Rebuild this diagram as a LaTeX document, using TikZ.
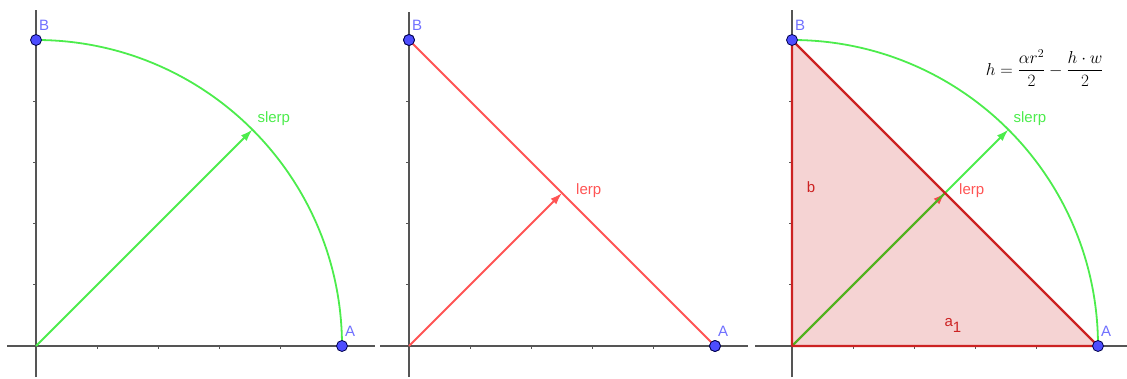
\documentclass[tikz,border=0pt]{standalone}
\usepackage{fontspec}
\setmainfont{Liberation Sans}
\usepackage{amsmath}
\usetikzlibrary{arrows.meta, positioning}
\definecolor{axisgray}{RGB}{85,85,85}
\definecolor{slerpgreen}{RGB}{76,236,76}
\definecolor{innergreen}{RGB}{49,216,29}
\definecolor{lerpred}{RGB}{255,84,84}
\definecolor{edgered}{RGB}{204,34,34}
\definecolor{pointblue}{RGB}{77,77,255}
\definecolor{labelblue}{RGB}{112,112,255}

\begin{document}
\begin{tikzpicture}[x=1pt, y=1pt, >={Latex[length=12pt,width=8pt]}, font=\fontsize{15}{18}\selectfont,
  axis/.style={draw=axisgray, line width=1.2pt},
  tick/.style={draw=axisgray, line width=0.8pt},
  pnt/.style={circle, draw=blue!30!black, fill=pointblue, line width=0.8pt, minimum size=11pt, inner sep=0pt},
  lbl/.style={inner sep=0pt, text=labelblue, anchor=south west},
  slerp/.style={draw=slerpgreen, line width=1.8pt},
  lerp/.style={draw=lerpred, line width=1.8pt},
  edge/.style={draw=edgered, line width=2.4pt, line join=round}]
\useasboundingbox (0,0) rectangle (1127,379);

% slerp
\begin{scope}[shift={(36pt,33pt)}, x=61.2pt, y=61.2pt]
\draw[axis] (-0.47,0) -- (5.54,0);
\draw[axis] (0,-0.51) -- (0,5.49);
\foreach \t in {1,...,4} {
  \draw[tick] (\t,0) -- (\t,-0.05);
  \draw[tick] (0,\t) -- (-0.05,\t);
}
\coordinate (O1) at (0,0);
\coordinate (S1) at (45:5);
\draw[slerp] (5,0) arc (0:90:5);
\draw[slerp, ->] (O1) -- (S1);
\node[inner sep=0pt, text=slerpgreen, anchor=south west, above right=4pt and 5pt of S1] (txtS1) {slerp};
\node[pnt] (A1) at (5,0) {};
\node[pnt] (B1) at (0,5) {};
\node[lbl, above right=9pt and 3pt of A1.center] (labA1) {A};
\node[lbl, above right=9pt and 3pt of B1.center] (labB1) {B};
\end{scope}

% lerp
\begin{scope}[shift={(409pt,33pt)}, x=61.2pt, y=61.2pt]
\draw[axis] (-0.47,0) -- (5.54,0);
\draw[axis] (0,-0.51) -- (0,5.45);
\foreach \t in {1,...,4} {
  \draw[tick] (\t,0) -- (\t,-0.05);
  \draw[tick] (0,\t) -- (-0.05,\t);
}
\coordinate (O2) at (0,0);
\coordinate (L2) at (2.5,2.5);
\node[pnt] (A2) at (5,0) {};
\node[pnt] (B2) at (0,5) {};
\draw[lerp] (B2.center) -- (A2.center);
\draw[lerp, ->] (O2) -- (L2);
\node[pnt] at (A2) {};
\node[pnt] at (B2) {};
\node[inner sep=0pt, text=lerpred, anchor=west] (txtL2) at ([shift={(14pt,2pt)}]L2) {lerp};
\node[lbl, above right=9pt and 3pt of A2.center] (labA2) {A};
\node[lbl, above right=9pt and 3pt of B2.center] (labB2) {B};
\end{scope}

% both, with the triangle
\begin{scope}[shift={(792pt,33pt)}, x=61.2pt, y=61.2pt]
\draw[axis] (-0.6,0) -- (5.47,0);
\draw[axis] (0,-0.51) -- (0,5.49);
\foreach \t in {1,...,4} {
  \draw[tick] (\t,0) -- (\t,-0.05);
  \draw[tick] (0,\t) -- (-0.05,\t);
}
\coordinate (O3) at (0,0);
\coordinate (a3) at (5,0);
\coordinate (b3) at (0,5);
\coordinate (L3) at (2.5,2.5);
\coordinate (S3) at (45:5);
\draw[slerp] (a3) arc (0:90:5);
\draw[lerp, ->] (O3) -- (L3);
\draw[slerp, ->] (O3) -- (S3);
\draw[innergreen, line width=1.8pt] (O3) -- (L3);
\fill[edgered, opacity=0.2] (O3) -- (a3) -- (b3) -- cycle;
\draw[edge] (O3) -- (a3) -- (b3) -- cycle;
\node[inner sep=0pt, text=slerpgreen, anchor=south west, above right=4pt and 5pt of S3] (txtS3) {slerp};
\node[inner sep=0pt, text=lerpred, anchor=west] (txtL3) at ([shift={(14pt,2pt)}]L3) {lerp};
\node[text=edgered, inner sep=0pt] (sideb) at (0.31,2.6) {b};
\node[text=edgered, inner sep=0pt] (sidea) at (2.63,0.33) {a\raisebox{-6pt}{1}};
\node[inner sep=0pt, font=\fontsize{18.5}{22}\selectfont] (form) at (4.13,4.54) {$h=\dfrac{\alpha r^2}{2}-\dfrac{h\cdot w}{2}$};
\node[pnt] (A3) at (a3) {};
\node[pnt] (B3) at (b3) {};
\node[lbl, above right=9pt and 3pt of A3.center] (labA3) {A};
\node[lbl, above right=9pt and 3pt of B3.center] (labB3) {B};
\end{scope}
\end{tikzpicture}
\end{document}
